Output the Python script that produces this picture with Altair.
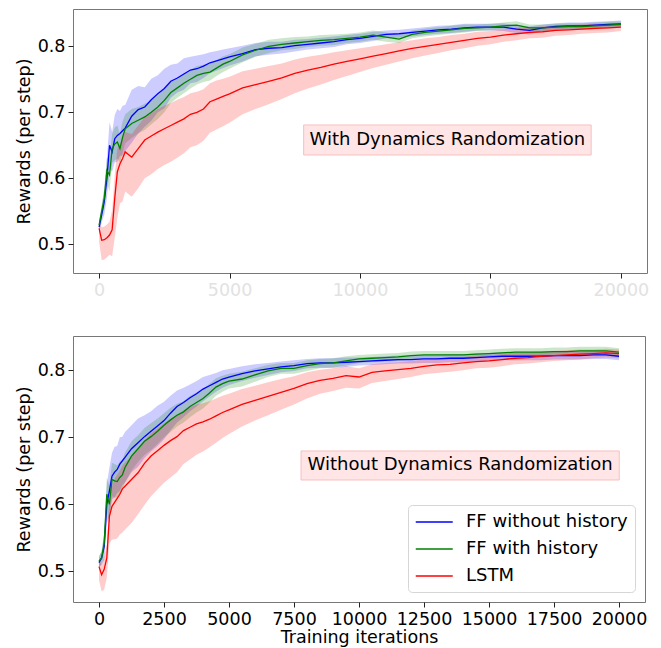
import altair as alt
import pandas as pd

ITER = [0, 100, 200, 300, 400, 500, 600, 700, 800, 900, 1000, 1250, 1500, 1750, 2000, 2250, 2500, 2750, 3000, 3250,
        3500, 3750, 4000, 4250, 4500, 4750, 5000, 5500, 6000, 6500, 7000, 7500, 8000, 8500, 9000, 9500, 10000, 10500,
        11000, 11500, 12000, 12500, 13000, 13500, 14000, 14500, 15000, 15500, 16000, 16500, 17000, 17500, 18000,
        18500, 19000, 19500, 20000]

SERIES = ["FF without history", "FF with history", "LSTM"]
COLORS = ["#0000ff", "#008000", "#ff0000"]

# ---- Panel 1: With Dynamics Randomization ----
TOP_BLUE = [0.526, 0.545, 0.565, 0.600, 0.650, 0.640, 0.660, 0.665, 0.668, 0.672,
            0.676, 0.694, 0.704, 0.708, 0.719, 0.728, 0.736, 0.747, 0.752, 0.758,
            0.764, 0.766, 0.770, 0.775, 0.778, 0.781, 0.784, 0.789, 0.795, 0.797,
            0.798, 0.801, 0.803, 0.805, 0.807, 0.810, 0.812, 0.815, 0.818, 0.819,
            0.821, 0.823, 0.825, 0.826, 0.828, 0.829, 0.829, 0.829, 0.826, 0.824,
            0.828, 0.830, 0.831, 0.831, 0.832, 0.833, 0.834]
TOP_GREEN = [0.529, 0.550, 0.570, 0.612, 0.605, 0.645, 0.652, 0.655, 0.645, 0.662,
             0.675, 0.683, 0.688, 0.693, 0.700, 0.708, 0.718, 0.730, 0.737, 0.744,
             0.750, 0.756, 0.759, 0.761, 0.767, 0.773, 0.777, 0.787, 0.794, 0.800,
             0.803, 0.805, 0.807, 0.809, 0.810, 0.812, 0.814, 0.817, 0.814, 0.811,
             0.818, 0.821, 0.823, 0.825, 0.827, 0.828, 0.829, 0.831, 0.832, 0.828,
             0.828, 0.829, 0.830, 0.830, 0.831, 0.832, 0.833]
TOP_RED = [0.524, 0.506, 0.507, 0.510, 0.514, 0.522, 0.570, 0.610, 0.622, 0.630,
           0.640, 0.632, 0.645, 0.658, 0.664, 0.670, 0.675, 0.680, 0.685, 0.690,
           0.697, 0.700, 0.705, 0.716, 0.720, 0.724, 0.728, 0.737, 0.742, 0.747,
           0.752, 0.759, 0.764, 0.768, 0.773, 0.777, 0.781, 0.785, 0.789, 0.793,
           0.797, 0.800, 0.803, 0.806, 0.809, 0.812, 0.814, 0.817, 0.819, 0.821,
           0.822, 0.824, 0.825, 0.826, 0.827, 0.828, 0.829]
TOP_BLUE_SPREAD = [0.008, 0.012, 0.02, 0.03, 0.035, 0.03, 0.036, 0.04, 0.034, 0.038,
                   0.035, 0.04, 0.036, 0.03, 0.032, 0.028, 0.03, 0.025, 0.022, 0.024,
                   0.02, 0.02, 0.018, 0.016, 0.015, 0.014, 0.013, 0.012, 0.01, 0.01,
                   0.009, 0.009, 0.008, 0.008, 0.008, 0.007, 0.007, 0.007, 0.006, 0.006,
                   0.006, 0.006, 0.006, 0.006, 0.006, 0.005, 0.005, 0.006, 0.006, 0.006,
                   0.005, 0.005, 0.005, 0.005, 0.005, 0.005, 0.005]
TOP_GREEN_SPREAD = [0.008, 0.01, 0.015, 0.02, 0.025, 0.022, 0.025, 0.025, 0.022, 0.024,
                    0.022, 0.022, 0.02, 0.02, 0.018, 0.018, 0.018, 0.016, 0.015, 0.015,
                    0.014, 0.014, 0.013, 0.013, 0.012, 0.012, 0.011, 0.011, 0.01, 0.01,
                    0.009, 0.009, 0.008, 0.008, 0.008, 0.007, 0.007, 0.007, 0.007, 0.006,
                    0.006, 0.006, 0.006, 0.006, 0.006, 0.005, 0.005, 0.005, 0.006, 0.005,
                    0.005, 0.005, 0.005, 0.005, 0.005, 0.005, 0.005]
TOP_RED_UP = [0.01, 0.02, 0.02, 0.02, 0.02, 0.03, 0.035, 0.035, 0.03, 0.03,
              0.03, 0.035, 0.035, 0.035, 0.035, 0.035, 0.035, 0.034, 0.034, 0.033,
              0.032, 0.031, 0.03, 0.028, 0.028, 0.027, 0.026, 0.025, 0.024, 0.023,
              0.022, 0.021, 0.02, 0.019, 0.018, 0.017, 0.016, 0.015, 0.014, 0.013,
              0.012, 0.012, 0.011, 0.011, 0.01, 0.01, 0.009, 0.009, 0.009, 0.008,
              0.008, 0.008, 0.007, 0.007, 0.007, 0.006, 0.006]
TOP_RED_DOWN = [0.02, 0.03, 0.03, 0.03, 0.03, 0.04, 0.06, 0.07, 0.06, 0.065,
                0.06, 0.06, 0.06, 0.058, 0.058, 0.056, 0.055, 0.055, 0.054, 0.052,
                0.05, 0.05, 0.048, 0.047, 0.046, 0.045, 0.044, 0.04, 0.037, 0.035,
                0.032, 0.03, 0.028, 0.026, 0.024, 0.022, 0.02, 0.018, 0.017, 0.016,
                0.015, 0.014, 0.013, 0.012, 0.012, 0.011, 0.011, 0.01, 0.01, 0.009,
                0.009, 0.008, 0.008, 0.007, 0.007, 0.007, 0.006]

# ---- Panel 2: Without Dynamics Randomization ----
BOT_BLUE = [0.513, 0.520, 0.537, 0.600, 0.620, 0.642, 0.648, 0.652, 0.660, 0.665,
            0.670, 0.683, 0.692, 0.701, 0.709, 0.717, 0.725, 0.736, 0.746, 0.752,
            0.759, 0.765, 0.772, 0.777, 0.782, 0.787, 0.790, 0.795, 0.799, 0.802,
            0.805, 0.807, 0.810, 0.811, 0.811, 0.812, 0.813, 0.814, 0.815, 0.816,
            0.816, 0.817, 0.817, 0.818, 0.818, 0.819, 0.820, 0.821, 0.821, 0.821,
            0.821, 0.822, 0.822, 0.822, 0.823, 0.823, 0.821]
BOT_GREEN = [0.515, 0.520, 0.542, 0.615, 0.600, 0.637, 0.635, 0.634, 0.640, 0.644,
             0.655, 0.672, 0.683, 0.694, 0.701, 0.709, 0.718, 0.726, 0.733, 0.738,
             0.746, 0.752, 0.758, 0.766, 0.775, 0.780, 0.784, 0.787, 0.793, 0.799,
             0.803, 0.803, 0.807, 0.810, 0.811, 0.814, 0.817, 0.818, 0.819, 0.820,
             0.822, 0.823, 0.823, 0.823, 0.823, 0.824, 0.825, 0.826, 0.827, 0.827,
             0.827, 0.828, 0.828, 0.829, 0.829, 0.829, 0.827]
BOT_RED = [0.507, 0.495, 0.503, 0.520, 0.582, 0.597, 0.603, 0.609, 0.615, 0.623,
           0.627, 0.637, 0.647, 0.661, 0.672, 0.680, 0.688, 0.695, 0.701, 0.710,
           0.715, 0.720, 0.723, 0.727, 0.732, 0.737, 0.741, 0.749, 0.755, 0.761,
           0.767, 0.773, 0.780, 0.785, 0.788, 0.792, 0.790, 0.797, 0.799, 0.801,
           0.803, 0.806, 0.808, 0.809, 0.811, 0.813, 0.814, 0.816, 0.818, 0.819,
           0.821, 0.822, 0.823, 0.824, 0.825, 0.826, 0.825]
BOT_BLUE_SPREAD = [0.008, 0.01, 0.02, 0.03, 0.035, 0.035, 0.038, 0.035, 0.04, 0.036,
                   0.038, 0.035, 0.036, 0.032, 0.03, 0.03, 0.028, 0.026, 0.024, 0.022,
                   0.02, 0.019, 0.018, 0.016, 0.014, 0.013, 0.012, 0.011, 0.01, 0.009,
                   0.008, 0.008, 0.007, 0.007, 0.007, 0.007, 0.006, 0.006, 0.006, 0.006,
                   0.006, 0.006, 0.006, 0.006, 0.006, 0.006, 0.006, 0.006, 0.006, 0.006,
                   0.006, 0.006, 0.006, 0.006, 0.006, 0.006, 0.006]
BOT_GREEN_SPREAD = [0.008, 0.01, 0.015, 0.025, 0.028, 0.025, 0.025, 0.024, 0.024, 0.022,
                    0.022, 0.022, 0.02, 0.02, 0.02, 0.019, 0.018, 0.018, 0.017, 0.016,
                    0.016, 0.015, 0.015, 0.014, 0.013, 0.012, 0.011, 0.011, 0.01, 0.009,
                    0.008, 0.008, 0.008, 0.007, 0.007, 0.007, 0.006, 0.006, 0.006, 0.006,
                    0.006, 0.006, 0.006, 0.006, 0.006, 0.006, 0.006, 0.006, 0.006, 0.006,
                    0.006, 0.006, 0.006, 0.006, 0.006, 0.006, 0.006]
BOT_RED_UP = [0.01, 0.015, 0.02, 0.02, 0.025, 0.03, 0.035, 0.035, 0.035, 0.035,
              0.035, 0.035, 0.035, 0.034, 0.034, 0.033, 0.033, 0.032, 0.032, 0.03,
              0.03, 0.029, 0.028, 0.027, 0.026, 0.025, 0.024, 0.023, 0.022, 0.021,
              0.02, 0.018, 0.017, 0.016, 0.015, 0.014, 0.013, 0.012, 0.012, 0.011,
              0.011, 0.01, 0.01, 0.01, 0.009, 0.009, 0.009, 0.008, 0.008, 0.008,
              0.007, 0.007, 0.007, 0.007, 0.006, 0.006, 0.006]
BOT_RED_DOWN = [0.02, 0.025, 0.03, 0.03, 0.04, 0.05, 0.055, 0.06, 0.06, 0.065,
                0.065, 0.065, 0.062, 0.062, 0.06, 0.058, 0.056, 0.055, 0.053, 0.05,
                0.048, 0.046, 0.044, 0.042, 0.04, 0.038, 0.036, 0.033, 0.03, 0.028,
                0.026, 0.024, 0.022, 0.02, 0.019, 0.018, 0.017, 0.016, 0.015, 0.014,
                0.013, 0.012, 0.012, 0.011, 0.011, 0.01, 0.01, 0.01, 0.009, 0.009,
                0.009, 0.008, 0.008, 0.008, 0.007, 0.007, 0.007]

# annotation boxes (data coords): x-range, y-range, text position
TOP_LABEL = "With Dynamics Randomization"
TOP_BOX = [7840, 18860, 0.6353, 0.6808]
TOP_TEXT_POS = [13350, 0.6585]
BOT_LABEL = "Without Dynamics Randomization"
BOT_BOX = [7770, 20010, 0.6363, 0.6796]
BOT_TEXT_POS = [13890, 0.6585]

TOP_XTICKS = [0, 5000, 10000, 15000, 20000]
BOT_XTICKS = [0, 2500, 5000, 7500, 10000, 12500, 15000, 17500, 20000]
YTICKS = [0.5, 0.6, 0.7, 0.8]

FS = 17.5


def make_df(blue, green, red, bsp, gsp, rup, rdn):
    rows = []
    for name, mean, up, dn in [(SERIES[0], blue, bsp, bsp), (SERIES[1], green, gsp, gsp), (SERIES[2], red, rup, rdn)]:
        for x, m, u, d in zip(ITER, mean, up, dn):
            rows.append({"iter": x, "series": name, "mean": m, "lo": m - d, "hi": m + u})
    return pd.DataFrame(rows)


def panel(df, box, tpos, label, ydom, width, height, xticks, xlabel_color, xtitle, legend):
    xscale = alt.Scale(domain=[-1000, 21000], nice=False, zero=False)
    yscale = alt.Scale(domain=ydom, nice=False, zero=False)
    xaxis_kw = dict(values=xticks, format="d", labelColor=xlabel_color, labelFontSize=FS,
                    tickSize=5, tickColor="#222222", labelPadding=3, grid=False, domain=False,
                    titleFontSize=FS, titleFontWeight="normal", titleColor="black", titlePadding=1)
    xaxis = alt.Axis(title=xtitle, **xaxis_kw) if xtitle else alt.Axis(title=None, **xaxis_kw)
    yaxis = alt.Axis(values=YTICKS, format=".1f", title="Rewards (per step)", labelFontSize=FS,
                     labelColor="black", tickSize=5, tickColor="#222222", labelPadding=3, grid=False,
                     domain=False, titleFontSize=FS, titleFontWeight="normal", titleColor="black",
                     titlePadding=4)
    cscale = alt.Scale(domain=SERIES, range=COLORS)
    base = alt.Chart(df)
    bands = []
    for name, col in zip(SERIES, COLORS):
        bands.append(
            base.transform_filter(alt.datum.series == name).mark_area(
                opacity=0.2, color=col, interpolate="linear").encode(
                x=alt.X("iter:Q", scale=xscale, axis=xaxis),
                y=alt.Y("lo:Q", scale=yscale, axis=yaxis),
                y2="hi:Q",
            )
        )
    if legend:
        leg = alt.Legend(orient="none", legendX=335, legendY=169, title=None, symbolType="M-1,0H3",
                         symbolSize=342, symbolStrokeWidth=1.5, labelFontSize=18, labelColor="black",
                         padding=7, strokeColor="#d6d6d6", fillColor="white", cornerRadius=4,
                         rowPadding=8, labelOffset=31, labelLimit=400)
        color = alt.Color("series:N", scale=cscale, legend=leg, sort=SERIES)
    else:
        color = alt.Color("series:N", scale=cscale, legend=None, sort=SERIES)
    line = base.mark_line(strokeWidth=1.3).encode(
        x="iter:Q",
        y="mean:Q",
        color=color,
        order="iter:Q",
    )
    boxdf = pd.DataFrame({"x1": [box[0]], "x2": [box[1]], "y1": [box[2]], "y2": [box[3]],
                          "tx": [tpos[0]], "ty": [tpos[1]], "label": [label]})
    rect = alt.Chart(boxdf).mark_rect(fill="#ffe5e5", stroke="#f6c0c0", strokeWidth=1).encode(
        x="x1:Q", x2="x2:Q", y="y1:Q", y2="y2:Q")
    text = alt.Chart(boxdf).mark_text(fontSize=18, color="black", font="DejaVu Sans").encode(
        x="tx:Q", y="ty:Q", text="label:N")
    return alt.layer(*bands, line, rect, text).properties(width=width, height=height)


top_df = make_df(TOP_BLUE, TOP_GREEN, TOP_RED, TOP_BLUE_SPREAD, TOP_GREEN_SPREAD, TOP_RED_UP, TOP_RED_DOWN)
bot_df = make_df(BOT_BLUE, BOT_GREEN, BOT_RED, BOT_BLUE_SPREAD, BOT_GREEN_SPREAD, BOT_RED_UP, BOT_RED_DOWN)

top = panel(top_df, TOP_BOX, TOP_TEXT_POS, TOP_LABEL, [0.4565, 0.8565], 574, 264, TOP_XTICKS, "#e2e2e2", None, False)
bot = panel(bot_df, BOT_BOX, BOT_TEXT_POS, BOT_LABEL, [0.4542, 0.8512], 572, 266, BOT_XTICKS, "black",
            "Training iterations", True)

chart = alt.vconcat(top, bot, spacing=36).resolve_scale(color="independent").resolve_legend(
    color="independent").properties(padding={"left": 6, "top": 0, "right": 0, "bottom": 0}).configure(
    font="DejaVu Sans").configure_view(stroke="#777777", strokeWidth=1)

chart.save("out.html", embed_options={"renderer": "svg", "actions": False})
